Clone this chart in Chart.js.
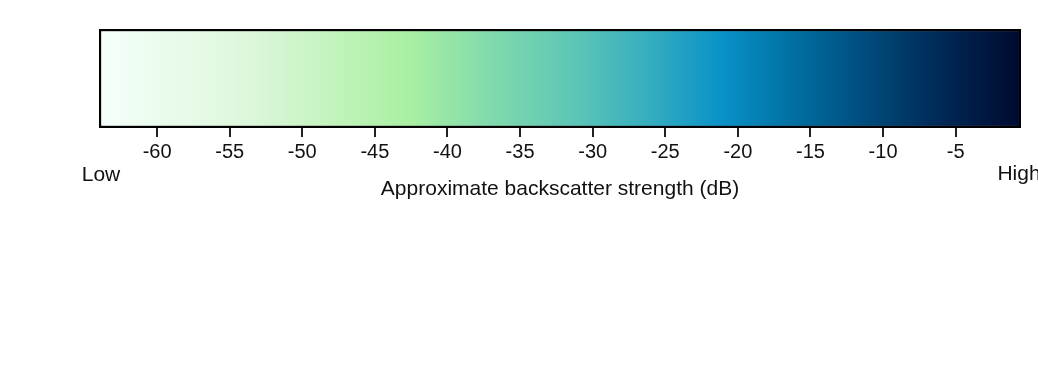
<!DOCTYPE html>
<html>
<head>
<meta charset="utf-8">
<script src="https://cdn.jsdelivr.net/npm/chart.js@4/dist/chart.umd.min.js"></script>
<style>
  html, body { margin: 0; padding: 0; background: #ffffff; }
  #wrap { width: 1038px; height: 383px; position: relative; }
</style>
</head>
<body>
<div id="wrap"><canvas id="c" width="1038" height="383"></canvas></div>
<script>
// ---- data ----
const rangeDB = [-64, -0.5];                       // extent of the colour bar (dB)
const tickValues = [-60, -55, -50, -45, -40, -35, -30, -25, -20, -15, -10, -5];
const stopValues = [-64, -53.5, -42.8, -37.0, -31.6, -26.0, -21.2, -15.7, -10.2, -5.4, -0.5];
const stopColors = ['#f5fffa', '#dcf7da', '#aaf0a2', '#80daac', '#5fc7b6', '#34adc0',
                    '#0a92c8', '#006c9e', '#004575', '#002552', '#000a2e'];
const axisTitle = 'Approximate backscatter strength (dB)';
const endLabels = ['Low', 'High'];

const FONT = '"Liberation Sans", Arial, sans-serif';

function barGradient(ctx) {
  const chart = ctx.chart;
  const xs = chart.scales.x;
  if (!chart.chartArea || !xs) return stopColors[0];
  const x0 = xs.getPixelForValue(rangeDB[0]);
  const x1 = xs.getPixelForValue(rangeDB[1]);
  const g = chart.ctx.createLinearGradient(x0, 0, x1, 0);
  stopValues.forEach((v, i) => {
    const t = (v - rangeDB[0]) / (rangeDB[1] - rangeDB[0]);
    g.addColorStop(Math.min(1, Math.max(0, t)), stopColors[i]);
  });
  return g;
}

const endLabelPlugin = {
  id: 'endLabels',
  afterDraw(chart) {
    const { ctx, chartArea } = chart;
    ctx.save();
    ctx.font = '21px ' + FONT;
    ctx.fillStyle = '#111111';
    ctx.textBaseline = 'middle';
    ctx.textAlign = 'center';
    ctx.fillText(endLabels[0], chartArea.left + 2, chartArea.bottom + 47);
    ctx.fillText(endLabels[1], chartArea.right - 2, chartArea.bottom + 46);
    ctx.restore();
  }
};

new Chart(document.getElementById('c'), {
  type: 'bar',
  data: {
    labels: [''],
    datasets: [{
      data: [rangeDB],
      backgroundColor: barGradient,
      borderColor: '#000000',
      borderWidth: 2.5,
      borderSkipped: false,
      categoryPercentage: 1,
      barPercentage: 1
    }]
  },
  options: {
    indexAxis: 'y',
    responsive: false,
    animation: false,
    layout: { padding: { left: 99, right: 17, top: 29, bottom: 181 } },
    plugins: { legend: { display: false }, tooltip: { enabled: false } },
    scales: {
      y: { display: false },
      x: {
        type: 'linear',
        min: rangeDB[0],
        max: rangeDB[1],
        afterBuildTicks(scale) { scale.ticks = tickValues.map(v => ({ value: v })); },
        afterFit(scale) { scale.height = 74; },
        border: { display: false },
        grid: {
          drawOnChartArea: false,
          drawTicks: true,
          tickLength: 9,
          color: '#222222',
          lineWidth: 2
        },
        ticks: {
          color: '#111111',
          padding: 3,
          maxRotation: 0,
          autoSkip: false,
          font: { family: FONT, size: 20 },
          callback: v => String(v)
        },
        title: {
          display: true,
          text: axisTitle,
          color: '#111111',
          font: { family: FONT, size: 21 },
          padding: { top: 0, bottom: 0 }
        }
      }
    }
  },
  plugins: [endLabelPlugin]
});
</script>
</body>
</html>
